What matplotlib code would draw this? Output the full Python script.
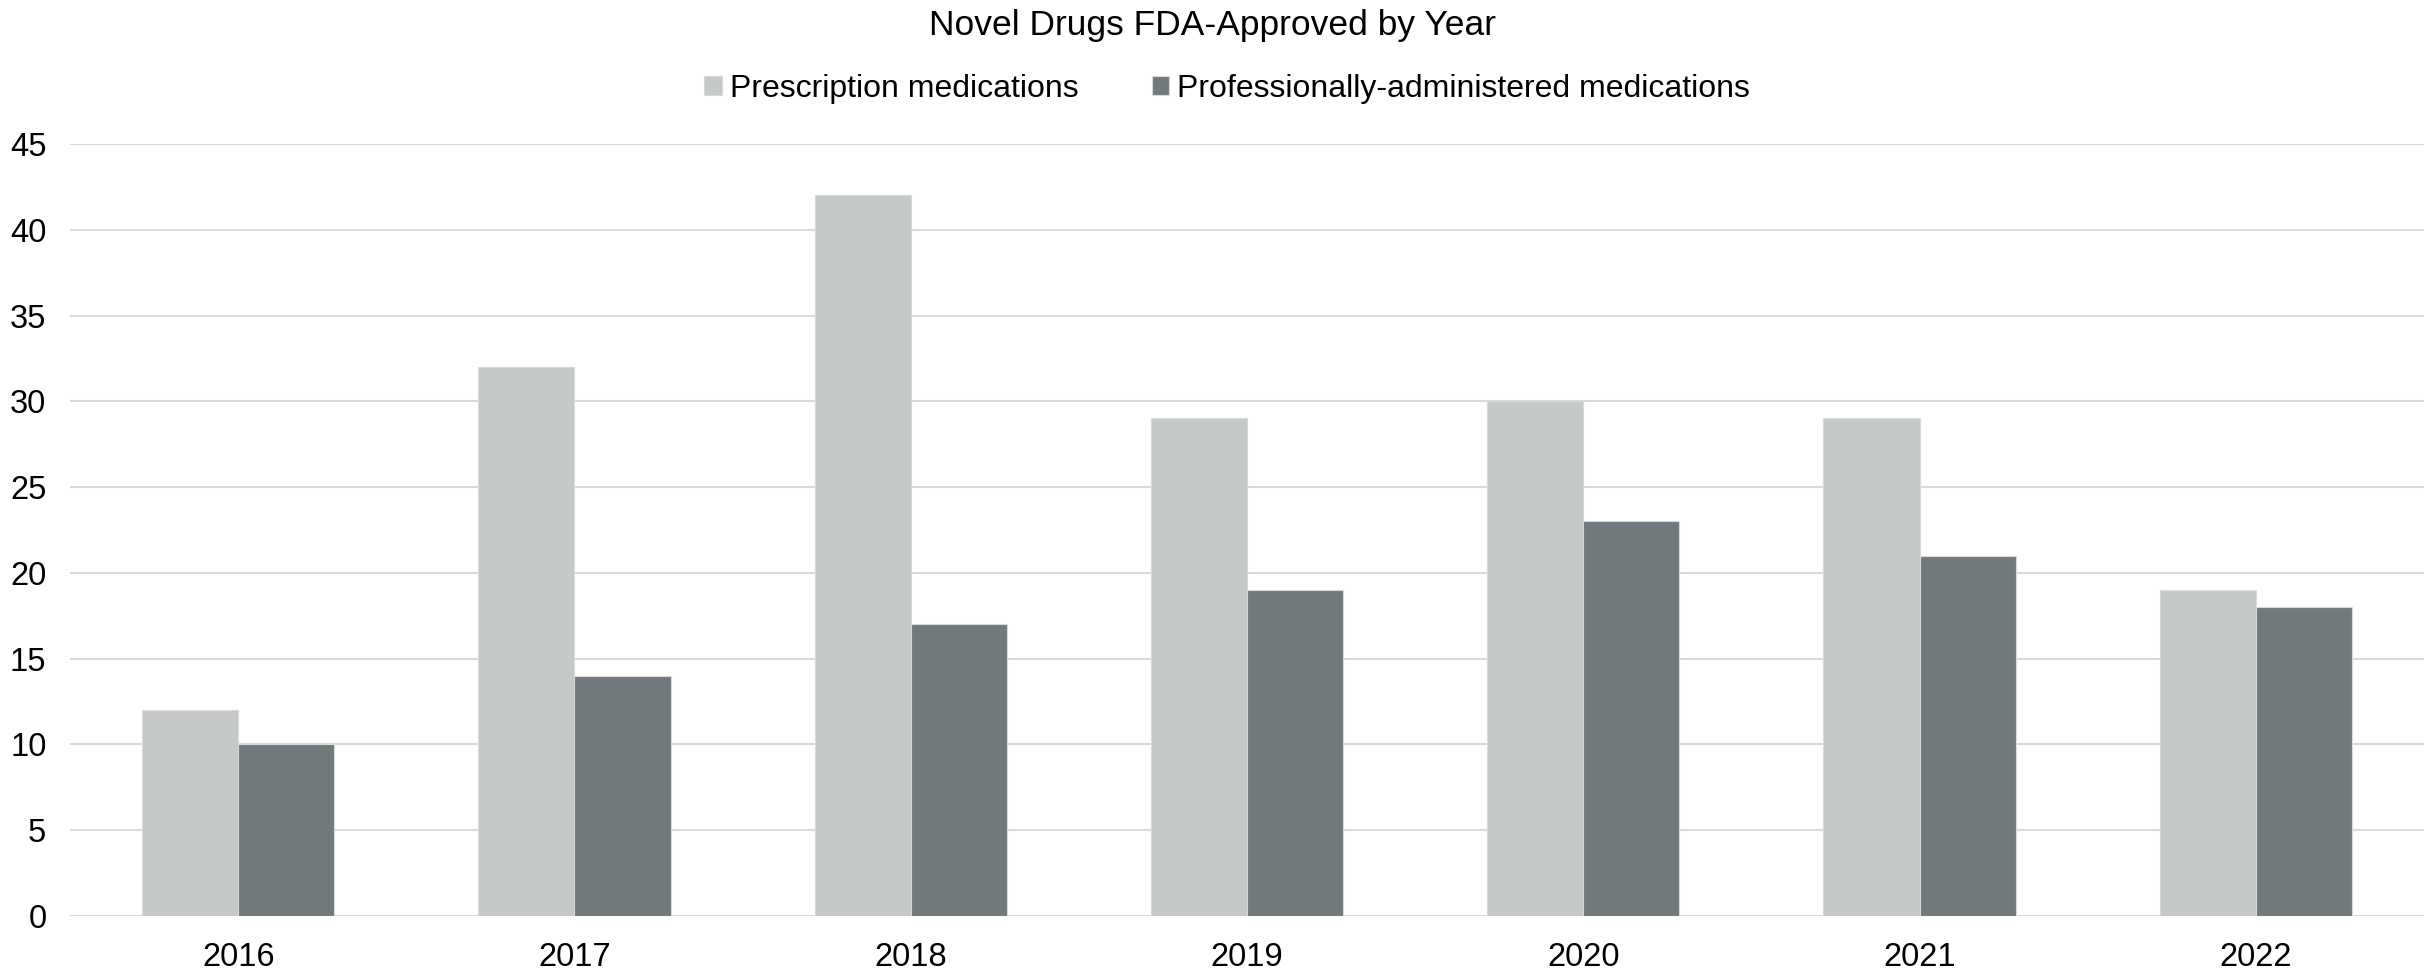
import numpy as np
import matplotlib
matplotlib.use("Agg")
import matplotlib.pyplot as plt

years = ["2016", "2017", "2018", "2019", "2020", "2021", "2022"]
prescription = [12, 32, 42, 29, 30, 29, 19]
professional = [10, 14, 17, 19, 23, 21, 18]
series_names = ["Prescription medications", "Professionally-administered medications"]
yticks = [0, 5, 10, 15, 20, 25, 30, 35, 40, 45]

LIGHT = "#c5c9ca"
DARK = "#72797c"
GRID = "#d9d9d9"


def main():
    plt.rcParams["font.family"] = ["Liberation Sans", "DejaVu Sans"]

    fig = plt.figure(figsize=(24.25, 9.74), dpi=100)
    ax = fig.add_axes([70 / 2425, 1 - 916 / 974, 2354 / 2425, (916 - 144) / 974])

    x = np.arange(len(years))
    w = 0.286
    ax.bar(x - w / 2, prescription, w, color=LIGHT, edgecolor=GRID,
           linewidth=0.8, label=series_names[0], zorder=3)
    ax.bar(x + w / 2, professional, w, color=DARK, edgecolor=GRID,
           linewidth=0.8, label=series_names[1], zorder=3)

    ax.set_xlim(-0.5, len(years) - 0.5)
    ax.set_ylim(0, 45)
    ax.set_yticks(yticks)
    ax.set_xticks(x)
    ax.set_xticklabels(years)
    ax.tick_params(axis="both", length=0, labelsize=23.5, colors="black")
    ax.tick_params(axis="x", pad=19)
    ax.tick_params(axis="y", pad=17)
    ax.grid(axis="y", color=GRID, linewidth=1.5, zorder=0)
    for s in ax.spines.values():
        s.set_visible(False)

    fig.text(0.5, 1 - 26 / 974, "Novel Drugs FDA-Approved by Year",
             ha="center", va="center", fontsize=25.5)
    fig.legend(loc="center", bbox_to_anchor=(1227 / 2425, 1 - 89 / 974),
               ncol=2, frameon=False, fontsize=23, handlelength=0.55,
               handleheight=0.55, handletextpad=0.25, columnspacing=2.3)

    fig.savefig("out.png", dpi=100)
    plt.close(fig)


if __name__ == "__main__":
    main()
